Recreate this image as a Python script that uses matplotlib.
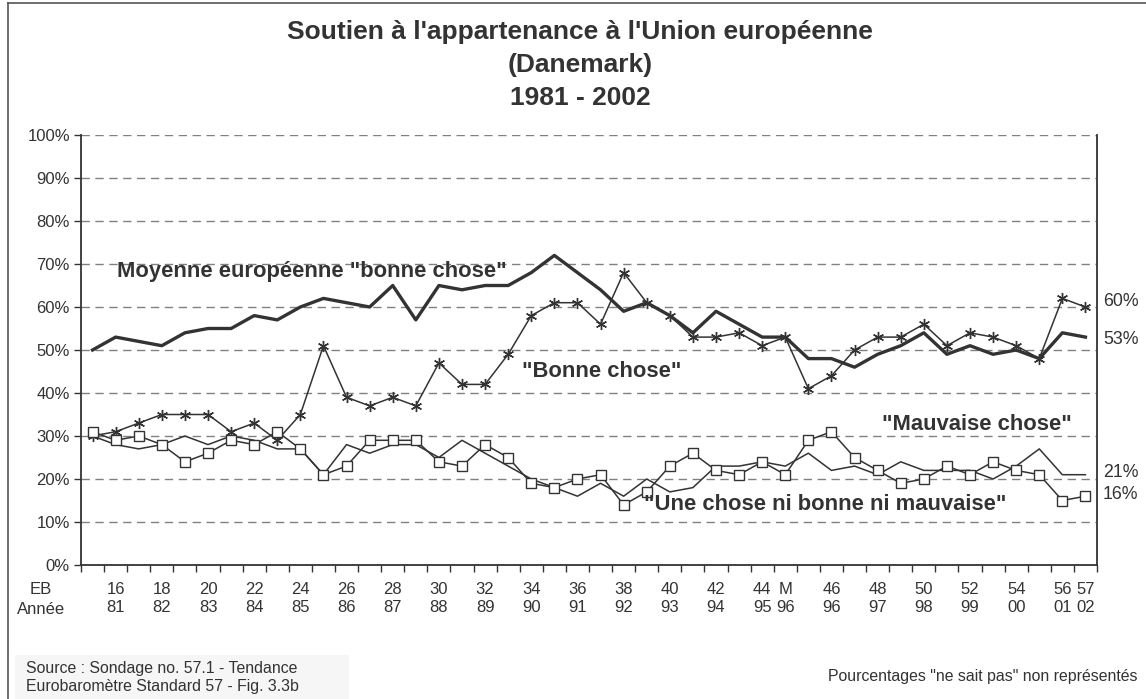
import numpy as np
import matplotlib
matplotlib.use('Agg')
import matplotlib.pyplot as plt
from matplotlib.lines import Line2D
from matplotlib.patches import Rectangle
import matplotlib.transforms as mtransforms

# Eurobarometer waves (M = extra survey in 1996)
eb_waves = [str(n) for n in range(15, 45)] + ['M'] + [str(n) for n in range(45, 58)]

tick_eb = ['16', '18', '20', '22', '24', '26', '28', '30', '32', '34', '36', '38',
           '40', '42', '44', 'M', '46', '48', '50', '52', '54', '56', '57']
tick_year = ['81', '82', '83', '84', '85', '86', '87', '88', '89', '90', '91', '92',
             '93', '94', '95', '96', '96', '97', '98', '99', '00', '01', '02']

moyenne_ue = [50, 53, 52, 51, 54, 55, 55, 58, 57, 60, 62, 61, 60, 65, 57, 65, 64, 65,
              65, 68, 72, 68, 64, 59, 61, 58, 54, 59, 56, 53, 53, 48, 48, 46, 49, 51,
              54, 49, 51, 49, 50, 48, 54, 53]
bonne_chose = [30, 31, 33, 35, 35, 35, 31, 33, 29, 35, 51, 39, 37, 39, 37, 47, 42, 42,
               49, 58, 61, 61, 56, 68, 61, 58, 53, 53, 54, 51, 53, 41, 44, 50, 53, 53,
               56, 51, 54, 53, 51, 48, 62, 60]
mauvaise_chose = [30, 28, 27, 28, 30, 28, 30, 29, 27, 27, 21, 28, 26, 28, 28, 25, 29, 26,
                  23, 20, 18, 16, 19, 16, 20, 17, 18, 23, 23, 24, 23, 26, 22, 23, 21, 24,
                  22, 22, 22, 20, 23, 27, 21, 21]
ni_bonne_ni_mauvaise = [31, 29, 30, 28, 24, 26, 29, 28, 31, 27, 21, 23, 29, 29, 29, 24, 23, 28,
                        25, 19, 18, 20, 21, 14, 17, 23, 26, 22, 21, 24, 21, 29, 31, 25, 22, 19,
                        20, 23, 21, 24, 22, 21, 15, 16]

TEXT = '#333333'
LINE = '#333333'
W, H = 1146, 699

plt.rcParams['font.family'] = ['Liberation Sans', 'DejaVu Sans']
plt.rcParams['text.color'] = TEXT

fig = plt.figure(figsize=(W / 100, H / 100), dpi=100)
fig.patch.set_facecolor('white')
ax = fig.add_axes([81 / W, 1 - 565 / H, (1097 - 81) / W, (565 - 135) / H])

x = np.arange(len(eb_waves))

ax.plot(x, moyenne_ue, color=LINE, linewidth=2.4, zorder=4)
ax.plot(x, bonne_chose, color=LINE, linewidth=1.1, marker=(6, 2, 0),
        markersize=8, markeredgewidth=1.0, zorder=3)
ax.plot(x, mauvaise_chose, color=LINE, linewidth=1.1, zorder=3)
ax.plot(x, ni_bonne_ni_mauvaise, color=LINE, linewidth=1.1, marker='s',
        markersize=6.5, markerfacecolor='white', markeredgecolor=LINE,
        markeredgewidth=1.0, zorder=3)

ax.set_xlim(-0.5, len(eb_waves) - 0.5)
ax.set_ylim(0, 100)

# y axis
ax.set_yticks(range(0, 101, 10))
ax.set_yticklabels([f'{v}%' for v in range(0, 101, 10)])
ax.yaxis.grid(True, linestyle=(0, (6, 4)), color='#808080', linewidth=1.0)
ax.set_axisbelow(True)
ax.tick_params(axis='y', direction='out', length=5, width=1, colors=LINE,
               labelsize=12, labelcolor=TEXT, pad=3)

# x axis: boundaries as minor ticks, labels at selected waves
ax.set_xticks(np.arange(-0.5, len(eb_waves), 1), minor=True)
pos = [eb_waves.index(e) for e in tick_eb]
ax.set_xticks(pos)
ax.set_xticklabels([f'{e}\n{y}' for e, y in zip(tick_eb, tick_year)], linespacing=1.3)
ax.tick_params(axis='x', which='major', length=0, labelsize=12, labelcolor=TEXT, pad=12)
ax.tick_params(axis='x', which='minor', direction='out', length=5, width=1, colors=LINE)

for s in ['left', 'bottom', 'right']:
    ax.spines[s].set_color(LINE)
    ax.spines[s].set_linewidth(1.3)
ax.spines['top'].set_visible(False)

fig.text(41 / W, 1 - 590 / H, 'EB', ha='center', va='center', fontsize=12)
fig.text(41 / W, 1 - 610 / H, 'Année', ha='center', va='center', fontsize=12)

# series labels
lab = dict(fontsize=15.8, fontweight='bold', va='center', ha='left', color=TEXT)
ax.text(1.05, 68.2, 'Moyenne européenne "bonne chose"', **lab)
ax.text(18.6, 44.9, '"Bonne chose"', **lab)
ax.text(34.2, 32.6, '"Mauvaise chose"', **lab)
ax.text(23.9, 14.0, '"Une chose ni bonne ni mauvaise"', **lab)

# end values on the right
trans = mtransforms.blended_transform_factory(ax.transAxes, ax.transData)
for v, dy in [(bonne_chose[-1], 1.3), (moyenne_ue[-1], -0.5),
              (mauvaise_chose[-1], 0.6), (ni_bonne_ni_mauvaise[-1], 0.3)]:
    ax.text(1.006, v + dy, f'{v}%', transform=trans, fontsize=12.8,
            ha='left', va='center', color=TEXT)

# title
fig.text(580 / W, 1 - 65 / H,
         "Soutien à l'appartenance à l'Union européenne\n(Danemark)\n1981 - 2002",
         ha='center', va='center', fontsize=19, fontweight='bold', linespacing=1.45)

# outer frame
fig.add_artist(Line2D([8 / W, 1], [1 - 3 / H, 1 - 3 / H], color='#555555', linewidth=1.2))
fig.add_artist(Line2D([8 / W, 8 / W], [0, 1 - 3 / H], color='#555555', linewidth=1.2))

# source box and footnote
fig.add_artist(Rectangle((15 / W, 0), (349 - 15) / W, (699 - 655) / H,
                         facecolor='#f6f6f6', edgecolor='none'))
fig.text(26 / W, 1 - 668 / H, 'Source : Sondage no. 57.1 - Tendance',
         ha='left', va='center', fontsize=11.4)
fig.text(26 / W, 1 - 686 / H, 'Eurobaromètre Standard 57 - Fig. 3.3b',
         ha='left', va='center', fontsize=11.4)
fig.text(1138 / W, 1 - 677 / H, 'Pourcentages "ne sait pas" non représentés',
         ha='right', va='center', fontsize=11.4)

fig.savefig('out.png', dpi=100)
plt.close(fig)
